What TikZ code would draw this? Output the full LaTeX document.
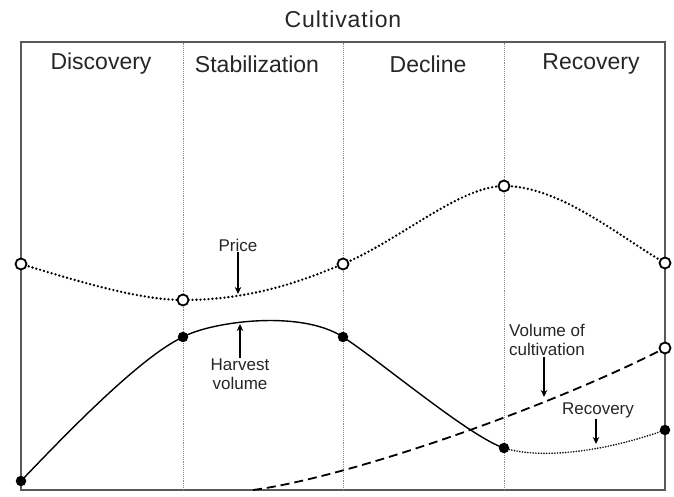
\documentclass[tikz,border=0pt]{standalone}
\usepackage{fontspec}
\setmainfont{Liberation Sans}
\newfontfamily\titlefont[LetterSpace=4]{Liberation Sans}
\usetikzlibrary{arrows.meta}
\begin{document}
\begin{tikzpicture}[x=1pt,y=1pt,
  hdr/.style={font=\fontsize{23}{26}\selectfont, text=black!85},
  lbl/.style={font=\fontsize{17}{19}\selectfont, text=black!85, align=center, inner sep=1pt},
  sep/.style={draw=black!45, densely dotted, line width=0.9pt},
  pricecurve/.style={line width=2.6pt, dash pattern=on 0pt off 4pt, line cap=round},
  harvcurve/.style={line width=1.4pt},
  reccurve/.style={line width=1.9pt, dash pattern=on 0pt off 2.7pt, line cap=round, draw=black!90},
  volcurve/.style={line width=1.8pt, dash pattern=on 9pt off 5pt},
  openpt/.style={circle, draw=black, line width=1.8pt, fill=white, minimum size=11pt, inner sep=0pt},
  fillpt/.style={circle, fill=black, minimum size=10.5pt, inner sep=0pt},
  ptr/.style={-{Stealth[length=7pt,width=6.5pt]}, line width=1.2pt}
]
\useasboundingbox[fill=white] (0,0) rectangle (674,497);
% frame and separators
\draw[draw=black!65, line width=1.5pt] (21,7) rectangle (665,455);
\draw[sep] (183,7) -- (183,455);
\draw[sep] (343,7) -- (343,455);
\draw[sep] (504,7) -- (504,455);
% titles
\node[hdr, font=\titlefont\fontsize{23}{26}\selectfont] (title) at (343,478) {Cultivation};
\node[hdr] (h1) at (101,433) {Discovery};
\node[hdr] (h2) at (257,433) {Stabilization};
\node[hdr] (h3) at (428,433) {Decline};
\node[hdr] (h4) at (591,433) {Recovery};
% point coordinates
\coordinate (p1) at (21,233);
\coordinate (p2) at (183,197);
\coordinate (p3) at (343,233);
\coordinate (p4) at (504,311);
\coordinate (p5) at (665,234);
\coordinate (q1) at (21,16);
\coordinate (q2) at (183,160);
\coordinate (q3) at (343,160);
\coordinate (q4) at (504,49);
\coordinate (r5) at (665,67);
\coordinate (v0) at (253,7);
\coordinate (v5) at (665,149);
% curves
\draw[volcurve] (v0) .. controls (350,20) and (550,90) .. (v5);
\draw[pricecurve] (p1) .. controls (80,215) and (140,197) .. (p2)
  .. controls (250,197) and (300,215) .. (p3)
  .. controls (400,257) and (460,311) .. (p4)
  .. controls (560,311) and (620,260) .. (p5);
\draw[harvcurve] (q1) .. controls (65,62) and (140,140) .. (q2)
  .. controls (210,175) and (300,188) .. (q3)
  .. controls (380,136) and (470,60) .. (q4);
\draw[reccurve] (q4) .. controls (535,39) and (595,42) .. (r5);
% markers
\foreach \p in {p1,p2,p3,p4,p5,v5} \node[openpt] (m\p) at (\p) {};
\foreach \p in {q1,q2,q3,q4,r5} \node[fillpt] (m\p) at (\p) {};
% labels and pointers
\node[lbl] (lprice) at (238,252) {Price};
\coordinate (aprice) at (238,203);
\draw[ptr] (lprice.south) -- (aprice);
\node[lbl, anchor=north] (lharv) at (240,139) {Harvest\\volume};
\coordinate (aharv) at (240,173);
\draw[ptr] (lharv.north) -- (aharv);
\node[lbl] (lvol) at (547,157) {Volume of\\cultivation};
\coordinate (avol) at (544,100);
\draw[ptr] (lvol.south -| avol) -- (avol);
\node[lbl] (lrec) at (598,87) {Recovery};
\coordinate (arec) at (596,53);
\draw[ptr] (lrec.south -| arec) -- (arec);
\end{tikzpicture}
\end{document}
